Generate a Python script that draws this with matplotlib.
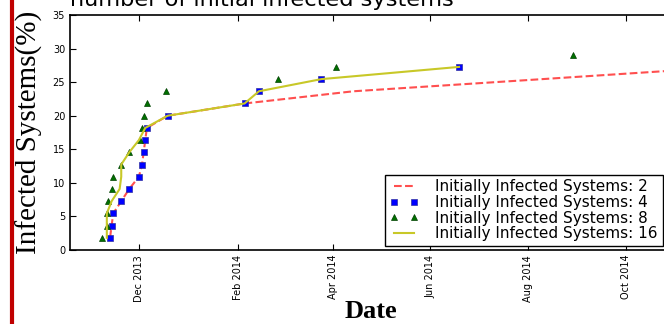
import matplotlib
matplotlib.use("Agg")
import matplotlib.pyplot as plt
import matplotlib.dates as mdates
from matplotlib.lines import Line2D
import numpy as np
import pandas as pd

# infected share, 55 systems total -> steps of 100/55 %
dates_2 = ["2013-11-13", "2013-11-14", "2013-11-15", "2013-11-20", "2013-11-25",
           "2013-12-01", "2013-12-03", "2013-12-04", "2013-12-05", "2013-12-06",
           "2013-12-19", "2014-02-05", "2014-04-14", "2014-08-10", "2014-12-05"]
vals_2 = [1.82, 3.64, 5.45, 7.27, 9.09, 10.91, 12.73, 14.55, 16.36, 18.18,
          20.0, 21.82, 23.64, 25.45, 27.27]

dates_4 = ["2013-11-13", "2013-11-14", "2013-11-15", "2013-11-20", "2013-11-25",
           "2013-12-01", "2013-12-03", "2013-12-04", "2013-12-05", "2013-12-06",
           "2013-12-19", "2014-02-05", "2014-02-14", "2014-03-25", "2014-06-19"]
vals_4 = [1.82, 3.64, 5.45, 7.27, 9.09, 10.91, 12.73, 14.55, 16.36, 18.18,
          20.0, 21.82, 23.64, 25.45, 27.27]

dates_8 = ["2013-11-08", "2013-11-11", "2013-11-11", "2013-11-12", "2013-11-14",
           "2013-11-15", "2013-11-20", "2013-11-25", "2013-12-02", "2013-12-03",
           "2013-12-04", "2013-12-06", "2013-12-18", "2014-02-26", "2014-04-03",
           "2014-08-29"]
vals_8 = [1.82, 3.64, 5.45, 7.27, 9.09, 10.91, 12.73, 14.55, 16.36, 18.18,
          20.0, 21.82, 23.64, 25.45, 27.27, 29.09]

dates_16 = ["2013-11-11", "2013-11-11", "2013-11-11", "2013-11-14", "2013-11-19",
            "2013-11-20", "2013-11-20", "2013-11-25", "2013-12-01", "2013-12-05",
            "2013-12-19", "2014-02-05", "2014-02-14", "2014-03-25", "2014-06-19"]
vals_16 = [1.82, 3.64, 5.45, 7.27, 9.09, 10.91, 12.73, 14.55, 16.36, 18.18,
           20.0, 21.82, 23.64, 25.45, 27.27]

labels = ["Initially Infected Systems: 2", "Initially Infected Systems: 4",
          "Initially Infected Systems: 8", "Initially Infected Systems: 16"]

fig = plt.figure(figsize=(6.64, 3.24), dpi=100)
ax = fig.add_axes([70 / 664, 1 - 250 / 324, 602 / 664, 235 / 324])

ax.plot(pd.to_datetime(dates_2), vals_2, "--", color="#ff3030", lw=1.5, alpha=0.85,
        label=labels[0])
ax.plot(pd.to_datetime(dates_4), vals_4, "s", color="blue", mec="#3030a0", mew=0.5,
        ms=5, label=labels[1])
ax.plot(pd.to_datetime(dates_8), vals_8, "^", color="#007000", mec="#004000", mew=0.5,
        ms=5, label=labels[2])
ax.plot(pd.to_datetime(dates_16), vals_16, "-", color="#c8c828", lw=1.5,
        label=labels[3])

ax.set_ylim(0, 35)
ax.set_yticks(np.arange(0, 36, 5))
ax.set_xlim(pd.Timestamp("2013-10-19"), pd.Timestamp("2014-10-30"))
ax.xaxis.set_major_locator(mdates.MonthLocator(bymonth=(2, 4, 6, 8, 10, 12)))
ax.xaxis.set_major_formatter(mdates.DateFormatter("%b %Y"))
ax.tick_params(direction="in", top=True, right=True, length=4, labelsize=7)
plt.setp(ax.get_xticklabels(), rotation=90)
for s in ax.spines.values():
    s.set_linewidth(1.2)

ax.set_ylabel("Infected Systems(%)", family="Liberation Serif", fontsize=21, labelpad=7)
ax.set_xlabel("Date", family="Liberation Serif", fontsize=19, fontweight="bold", labelpad=-1)

leg = ax.legend(loc="lower left", bbox_to_anchor=(315 / 602, 4 / 235), borderaxespad=0,
                fontsize=11, numpoints=2, fancybox=False, framealpha=1,
                edgecolor="black", labelspacing=0.05, handlelength=1.9,
                handletextpad=1.1, borderpad=0.3)
leg.get_frame().set_linewidth(1.0)

fig.text(70 / 664, 1 - 6 / 324, "number of initial infected systems", fontsize=16.2,
         va="baseline", ha="left")

fig.add_artist(Line2D([12 / 664, 12 / 664], [2 / 324, 1], color="#c00000", lw=3))

fig.savefig("out.png", dpi=100)
